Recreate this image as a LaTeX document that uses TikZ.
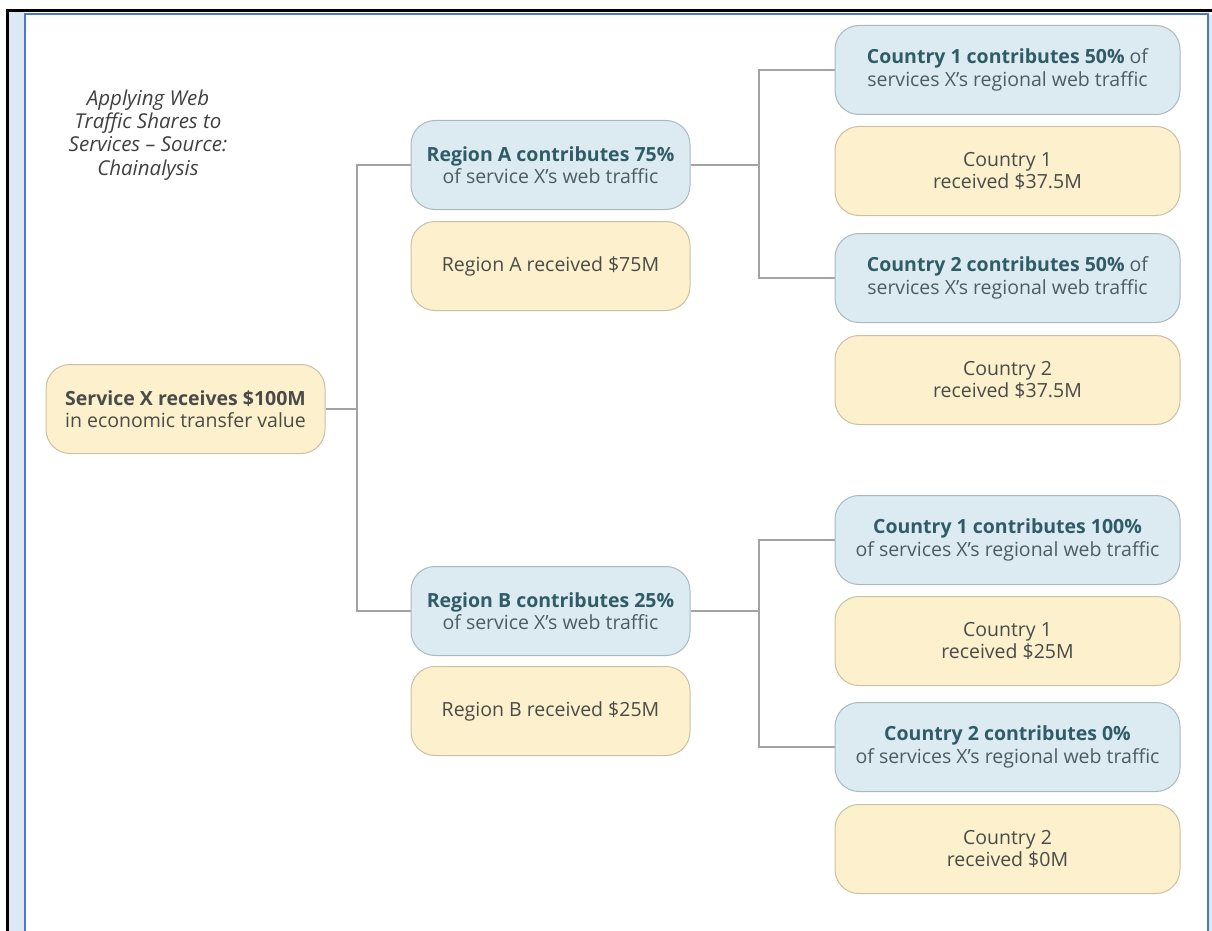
\documentclass[tikz,border=0pt]{standalone}
\usepackage{fontspec}
\setmainfont{Open Sans}
\definecolor{bluefill}{HTML}{DCEBF1}
\definecolor{blueedge}{HTML}{A9B9BE}
\definecolor{yelfill}{HTML}{FDF0CC}
\definecolor{yeledge}{HTML}{C9C1A6}
\definecolor{tealtext}{HTML}{2F5C67}
\definecolor{bluetext}{HTML}{4D5C61}
\definecolor{yeltext}{HTML}{4A4A48}
\definecolor{linegray}{HTML}{A3A3A3}
\definecolor{framefill}{HTML}{DCE8F5}
\definecolor{frameblue}{HTML}{4A78CC}
\begin{document}
\begin{tikzpicture}[x=1pt,y=-1pt,
  boxbase/.style={rounded corners=24pt, line width=1pt, align=center, inner sep=0pt,
    font=\fontsize{19.5}{22.5}\selectfont},
  bluebox/.style={boxbase, draw=blueedge, fill=bluefill, text=bluetext},
  yelbox/.style={boxbase, draw=yeledge, fill=yelfill, text=yeltext},
  regsize/.style={minimum width=279pt, minimum height=89pt},
  ctysize/.style={minimum width=345pt, minimum height=89pt},
  conn/.style={draw=linegray, line width=1.6pt}]
\useasboundingbox (0,0) rectangle (1212,931);
% frame
\fill[framefill] (8.5,11.5) rectangle (24,931);
\fill[framefill] (1208,15) rectangle (1212,931);
\draw[black, line width=2.2pt] (7.5,931) -- (7.5,10.5) -- (1212,10.5);
\draw[frameblue, line width=2pt] (24.5,931) -- (24.5,14.5) -- (1207.5,14.5) -- (1207.5,931);
% title
\node[font=\fontsize{20.5}{23.3}\selectfont\itshape, text=black!75, align=center] (title) at (148,135)
  {Applying Web\\Traffic Shares to\\Services -- Source:\\Chainalysis};
% nodes
\node[yelbox, regsize] (svc) at (185.5,409) {{\bfseries Service X receives \$100M}\\in economic transfer value};
\node[bluebox, regsize] (rA) at (550.5,165) {{\bfseries\color{tealtext}Region A contributes 75\%}\\of service X’s web traffic};
\node[yelbox, regsize] (rAy) at (550.5,266) {Region A received \$75M};
\node[bluebox, regsize] (rB) at (550.5,611) {{\bfseries\color{tealtext}Region B contributes 25\%}\\of service X’s web traffic};
\node[yelbox, regsize] (rBy) at (550.5,711) {Region B received \$25M};
\node[bluebox, ctysize] (a1) at (1007.5,70) {{\bfseries\color{tealtext}Country 1 contributes 50\%} of\\services X’s regional web traffic};
\node[yelbox, ctysize] (a1y) at (1007.5,171) {Country 1\\received \$37.5M};
\node[bluebox, ctysize] (a2) at (1007.5,278) {{\bfseries\color{tealtext}Country 2 contributes 50\%} of\\services X’s regional web traffic};
\node[yelbox, ctysize] (a2y) at (1007.5,380) {Country 2\\received \$37.5M};
\node[bluebox, ctysize] (b1) at (1007.5,540) {{\bfseries\color{tealtext}Country 1 contributes 100\%}\\of services X’s regional web traffic};
\node[yelbox, ctysize] (b1y) at (1007.5,641) {Country 1\\received \$25M};
\node[bluebox, ctysize] (b2) at (1007.5,747) {{\bfseries\color{tealtext}Country 2 contributes 0\%}\\of services X’s regional web traffic};
\node[yelbox, ctysize] (b2y) at (1007.5,849) {Country 2\\received \$0M};
% junctions
\coordinate (j0) at (357,409);
\coordinate (jA) at (759,165);
\coordinate (jB) at (759,611);
% connectors
\draw[conn] (svc.east) -- (j0);
\draw[conn] (rA.west) -- (j0 |- rA.west) -- (j0 |- rB.west) -- (rB.west);
\draw[conn] (rA.east) -- (jA);
\draw[conn] (a1.west) -- (jA |- a1.west) -- (jA |- a2.west) -- (a2.west);
\draw[conn] (rB.east) -- (jB);
\draw[conn] (b1.west) -- (jB |- b1.west) -- (jB |- b2.west) -- (b2.west);
\end{tikzpicture}
\end{document}
